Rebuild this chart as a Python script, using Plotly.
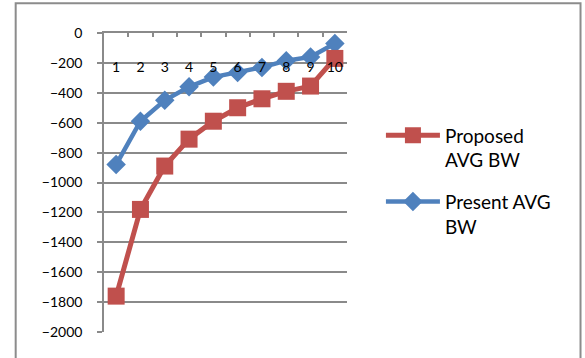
import plotly.graph_objects as go

# Average bandwidth per round
rounds = ["1", "2", "3", "4", "5", "6", "7", "8", "9", "10"]
proposed_avg_bw = [-1760, -1180, -890, -710, -590, -500, -440, -390, -355, -170]
present_avg_bw = [-880, -590, -450, -360, -295, -265, -230, -185, -160, -70]
y_ticks = list(range(-2000, 1, 200))

RED = "#C0504D"
BLUE = "#4F81BD"
GRID = "#8A8A8A"
FONT = "Lato, 'Open Sans', sans-serif"

W, H = 585, 358
L, R, T, B = 103.5, 238, 33.3, 26.3
pw, ph = W - L - R, H - T - B

fig = go.Figure()
# proposed series sits on the overlaying category axis so it is drawn on top
fig.add_trace(go.Scatter(
    x=rounds, y=proposed_avg_bw, name="Proposed<br>AVG BW",
    legendgroup="proposed",
    mode="lines+markers", xaxis="x2",
    line=dict(color=RED, width=5),
    marker=dict(symbol="square", size=17, color=RED),
))
fig.add_trace(go.Scatter(
    x=rounds, y=present_avg_bw, name="Present AVG<br>BW",
    legendgroup="present",
    mode="lines+markers",
    line=dict(color=BLUE, width=4.5),
    marker=dict(symbol="diamond", size=15, color=BLUE),
))

# chart frame
fig.add_shape(
    type="rect", xref="paper", yref="paper",
    x0=(15 - L) / pw, x1=(581 - L) / pw,
    y0=(H - 370 - B) / ph, y1=(H - 3.5 - B) / ph,
    line=dict(color="#8C8C8C", width=2), fillcolor="rgba(0,0,0,0)",
    layer="below",
)

fig.update_layout(
    width=W, height=H,
    margin=dict(l=L, r=R, t=T, b=B, pad=0),
    paper_bgcolor="white", plot_bgcolor="white",
    font=dict(family=FONT, size=14, color="black"),
    showlegend=True,
    legend=dict(
        x=(381 - L) / pw, y=(H - 116.5 - B) / ph, xanchor="left", yanchor="top",
        font=dict(size=19, family=FONT, color="black"),
        valign="top", traceorder="grouped", tracegroupgap=14, itemwidth=54,
        bgcolor="rgba(0,0,0,0)",
    ),
    # category axis line along the zero value, ticks pointing down
    xaxis=dict(
        type="category", side="top", range=[-0.5, 9.5],
        showgrid=False, showline=True, linecolor=GRID, linewidth=1.5,
        ticks="inside", ticklen=4, tickwidth=1.5, tickcolor=GRID,
        tickson="boundaries", showticklabels=False,
    ),
    # category labels, placed a little below the axis line
    xaxis2=dict(
        type="category", overlaying="x", matches="x", anchor="free",
        position=(H - 57 - B) / ph, side="bottom",
        showgrid=False, showline=False, ticks="", zeroline=False,
        showticklabels=True, tickangle=0, tickfont=dict(size=14),
        layer="above traces",
    ),
    yaxis=dict(
        range=[-2000, 0], tickvals=y_ticks,
        showgrid=True, gridcolor=GRID, gridwidth=1.5,
        showline=True, linecolor=GRID, linewidth=1.5,
        ticks="outside", ticklen=5, tickwidth=1.5, tickcolor=GRID,
        zeroline=False, ticklabelstandoff=12,
        tickfont=dict(size=14),
    ),
)

fig.write_html("out.html")
